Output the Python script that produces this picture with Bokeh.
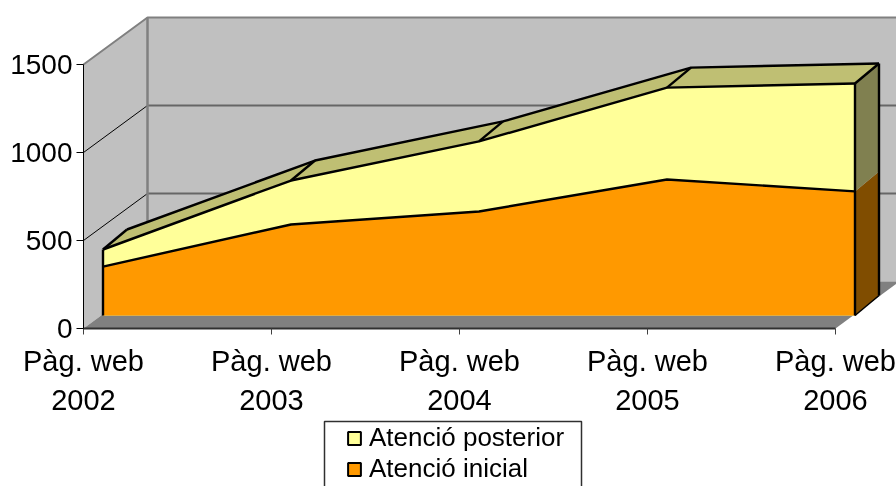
from bokeh.embed import file_html
from bokeh.resources import INLINE
from bokeh.plotting import figure
from bokeh.models import (Range1d, FixedTicker, Legend, LegendItem, BoxAnnotation)

# ---------- data ----------
years = ["2002", "2003", "2004", "2005", "2006"]
category_prefix = "Pàg. web"
atencio_inicial = [278, 517, 591, 773, 705]
atencio_posterior = [97, 250, 398, 522, 613]
y_ticks = [0, 500, 1000, 1500]
series_names = ["Atenció posterior", "Atenció inicial"]

# ---------- 3D projection constants, in data units ----------
PX_X = 188.0     # px per category
PX_Y = 0.176     # px per value unit
W, H = 896, 486
LEFT, BASE = 83, 328
wall_dx, wall_dy = 64 / PX_X, 47 / PX_Y
area_dx, area_dy = 19.5 / PX_X, 13 / PX_Y
depth_dx, depth_dy = 24 / PX_X, 20 / PX_Y
FONT = "Liberation Sans"
xmin = -LEFT / PX_X
xmax = (W - LEFT) / PX_X
ymin = -(H - BASE) / PX_Y
ymax = BASE / PX_Y
n = len(years)
top_val = y_ticks[-1]

p = figure(width=W, height=H, output_backend="svg", toolbar_location=None,
           x_range=Range1d(xmin, xmax), y_range=Range1d(ymin, ymax),
           min_border_left=0, min_border_right=0, min_border_top=0,
           min_border_bottom=0,
           styles={"position": "fixed", "left": "0px", "top": "0px"})
p.outline_line_color = None
p.background_fill_color = "white"
p.border_fill_color = "white"
p.grid.visible = False

# ---------- walls and floor ----------
p.patch([0, 0, wall_dx, wall_dx], [0, top_val, top_val + wall_dy, wall_dy],
        fill_color="#C0C0C0", line_color=None)
p.patch([wall_dx, wall_dx, xmax, xmax],
        [wall_dy, top_val + wall_dy, top_val + wall_dy, wall_dy],
        fill_color="#C0C0C0", line_color=None)
for t in y_ticks[1:-1]:
    p.line([wall_dx, xmax], [t + wall_dy, t + wall_dy], line_color="#666666", line_width=2)
    p.line([0, wall_dx], [t, t + wall_dy], line_color="black", line_width=1)
p.line([0, wall_dx, xmax], [top_val, top_val + wall_dy, top_val + wall_dy],
       line_color="#808080", line_width=2)
p.line([wall_dx, wall_dx], [wall_dy, top_val + wall_dy], line_color="#808080", line_width=2.5)
p.patch([0, n - 1, n - 1 + wall_dx, wall_dx], [0, 0, wall_dy, wall_dy],
        fill_color="#808080", line_color=None)

# ---------- stacked 3D areas ----------
xs = [i + area_dx for i in range(n)]
low = [v + area_dy for v in atencio_inicial]
high = [a + b + area_dy for a, b in zip(atencio_inicial, atencio_posterior)]
x_end = xs[-1]

# zero-size marks that carry the legend swatches' styling
sw_post = p.quad(left=[xs[0]], right=[xs[0]], top=[area_dy], bottom=[area_dy],
                 fill_color="#FFFF99", line_color="black", line_width=2)
sw_ini = p.quad(left=[xs[0]], right=[xs[0]], top=[area_dy], bottom=[area_dy],
                fill_color="#FF9900", line_color="black", line_width=2)

# right side faces
p.patch([x_end, x_end, x_end + depth_dx, x_end + depth_dx],
        [area_dy, low[-1], low[-1] + depth_dy, area_dy + depth_dy],
        fill_color="#804D00", line_color=None)
p.patch([x_end, x_end, x_end + depth_dx, x_end + depth_dx],
        [low[-1], high[-1], high[-1] + depth_dy, low[-1] + depth_dy],
        fill_color="#808050", line_color=None)

# top faces
for i in range(n - 1):
    p.patch([xs[i], xs[i + 1], xs[i + 1] + depth_dx, xs[i] + depth_dx],
            [high[i], high[i + 1], high[i + 1] + depth_dy, high[i] + depth_dy],
            fill_color="#BFBF73", line_color=None)

# front faces
p.patch(xs + [x_end, xs[0]], high + [area_dy, area_dy], fill_color="#FFFF99", line_color=None)
p.patch(xs + [x_end, xs[0]], low + [area_dy, area_dy], fill_color="#FF9900", line_color=None)

# outlines
ol = dict(line_color="black", line_width=2.4)
p.line(xs, low, **ol)
p.line(xs, high, **ol)
p.line([x + depth_dx for x in xs], [v + depth_dy for v in high], **ol)
for x, v in zip(xs, high):
    p.line([x, x + depth_dx], [v, v + depth_dy], **ol)
p.line([xs[0], xs[0]], [area_dy, high[0]], **ol)
p.line([x_end, x_end], [area_dy, high[-1]], **ol)
p.line([x_end + depth_dx, x_end + depth_dx], [area_dy + depth_dy, high[-1] + depth_dy], **ol)
p.line([x_end, x_end + depth_dx], [area_dy, area_dy + depth_dy], line_color="black", line_width=1.5)

# ---------- axes ----------
ya = p.yaxis[0]
ya.fixed_location = 0
ya.ticker = FixedTicker(ticks=y_ticks)
ya.bounds = (y_ticks[0], y_ticks[-1])
ya.axis_line_color = "black"
ya.major_tick_line_color = "black"
ya.major_tick_out = 7
ya.major_tick_in = 0
ya.minor_tick_line_color = None
ya.major_label_text_font = FONT
ya.major_label_text_font_size = "28px"
ya.major_label_text_color = "black"
ya.major_label_standoff = 4

xa = p.xaxis[0]
xa.fixed_location = 0
xa.ticker = FixedTicker(ticks=list(range(n)))
xa.bounds = (0, n - 1)
xa.major_label_overrides = {i: f"{category_prefix}\n{y}" for i, y in enumerate(years)}
xa.axis_line_color = "#303030"
xa.axis_line_width = 2
xa.major_tick_line_color = "#404040"
xa.major_tick_out = 6
xa.major_tick_in = 0
xa.minor_tick_line_color = None
xa.major_label_text_font = FONT
xa.major_label_text_font_size = "29px"
xa.major_label_text_color = "black"
xa.major_label_standoff = 10
xa.major_label_text_line_height = 1.22

# ---------- legend ----------
p.add_layout(BoxAnnotation(left=324, right=581, top=421, bottom=520,
                           left_units="canvas", right_units="canvas",
                           top_units="canvas", bottom_units="canvas",
                           fill_color="white", fill_alpha=1,
                           line_color="#303030", line_alpha=1, line_width=1.5))
legend = Legend(items=[LegendItem(label=series_names[0], renderers=[sw_post]),
                       LegendItem(label=series_names[1], renderers=[sw_ini])],
                location=(346, 2), orientation="vertical",
                padding=8, margin=0, spacing=-1, glyph_width=16, glyph_height=16,
                label_height=24, label_standoff=7,
                label_text_font=FONT, label_text_font_size="26px",
                label_text_color="black",
                background_fill_alpha=0, border_line_color=None)
p.add_layout(legend, "center")

open("out.html", "w").write(file_html(p, INLINE))
